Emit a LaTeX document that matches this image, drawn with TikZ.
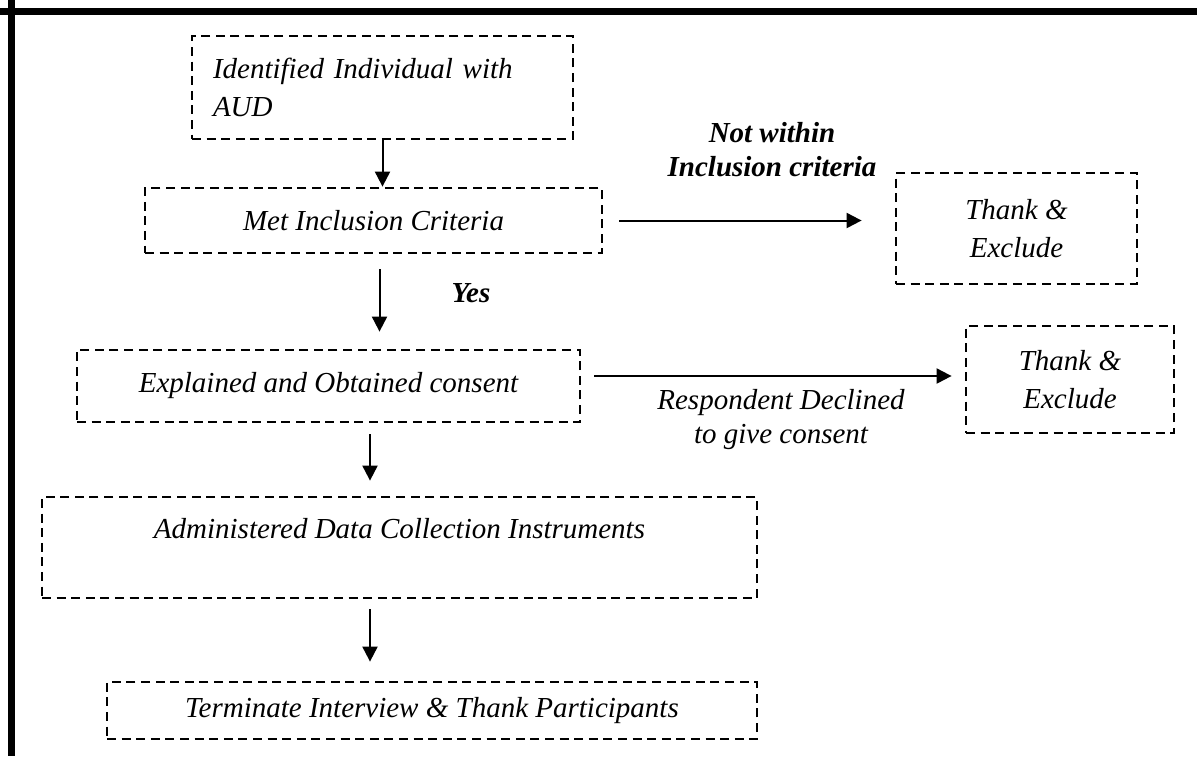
\documentclass[tikz,border=0pt]{standalone}
\usepackage{fontspec}
\setmainfont{Liberation Serif}
\usetikzlibrary{arrows.meta}

\begin{document}
\begin{tikzpicture}[
	x=0.5pt,y=-0.5pt,
	box/.style={draw,dash pattern=on 4.5pt off 2.8pt,line width=1.4pt,inner sep=0pt,align=center,font=\fontsize{14.5}{19}\selectfont\itshape},
	flow/.style={line width=1pt,>={Triangle[length=7.5pt,width=7.5pt]}},
	note/.style={align=center,inner sep=0pt,font=\fontsize{14.5}{17}\selectfont\itshape},
	bnote/.style={note,font=\fontsize{14.5}{17}\selectfont\bfseries\itshape}
]
%\draw[help lines] (0,0) grid[step=50] (1197,756);
	\useasboundingbox (0,0) rectangle (1197,756);
	\draw[line width=3.5pt] (0,11) -- (1197,11);
	\draw[line width=3.5pt] (11,0) -- (11,756);

	\node[box,minimum width=190.5pt,minimum height=51.5pt,text width=169.5pt,align=left] (ident) at (382.5,87.5) {Identified Individual with\\AUD};
	\node[box,minimum width=228.5pt,minimum height=32.5pt] (met) at (373.5,220.5) {Met Inclusion Criteria};
	\node[box,minimum width=120.5pt,minimum height=55.5pt] (thankA) at (1016.5,228.5) {Thank \&\\Exclude};
	\node[box,minimum width=251.5pt,minimum height=36pt] (consent) at (328.5,386) {Explained and Obtained consent};
	\node[box,minimum width=104pt,minimum height=53.5pt] (thankB) at (1070,379.5) {Thank \&\\Exclude};
	\node[box,minimum width=357.5pt,minimum height=50.5pt] (admin) at (399.5,547.5) {Administered Data Collection Instruments\\\mbox{}};
	\node[box,minimum width=325pt,minimum height=28.5pt] (term) at (432,710.5) {Terminate Interview \& Thank Participants};

	\node[bnote] (notwithin) at (772,150) {Not within\\Inclusion criteria};
	\node[bnote] (yes) at (471,293) {Yes};
	\node[note] (declined) at (781,420) {Respondent Declined\\to give consent};

	\draw[flow,->] (ident.south) -- (ident.south |- met.north);
	\draw[flow,->,shorten <=8pt,shorten >=16.5pt] (met.east) -- (met.east -| thankA.west);
	\draw[flow,->,shorten <=7.5pt,shorten >=8.5pt] ([xshift=3pt]met.south) -- ([xshift=3pt]met.south |- consent.north);
	\draw[flow,->,shorten <=6.5pt,shorten >=6.5pt] ([yshift=5pt]consent.east) -- ([yshift=5pt]consent.east -| thankB.west);
	\draw[flow,->,shorten <=5.5pt,shorten >=7.5pt] ([xshift=20.75pt]consent.south) -- ([xshift=20.75pt]consent.south |- admin.north);
	\draw[flow,->,shorten <=5pt,shorten >=9.5pt] ([xshift=-14.75pt]admin.south) -- ([xshift=-14.75pt]admin.south |- term.north);
\end{tikzpicture}
\end{document}
